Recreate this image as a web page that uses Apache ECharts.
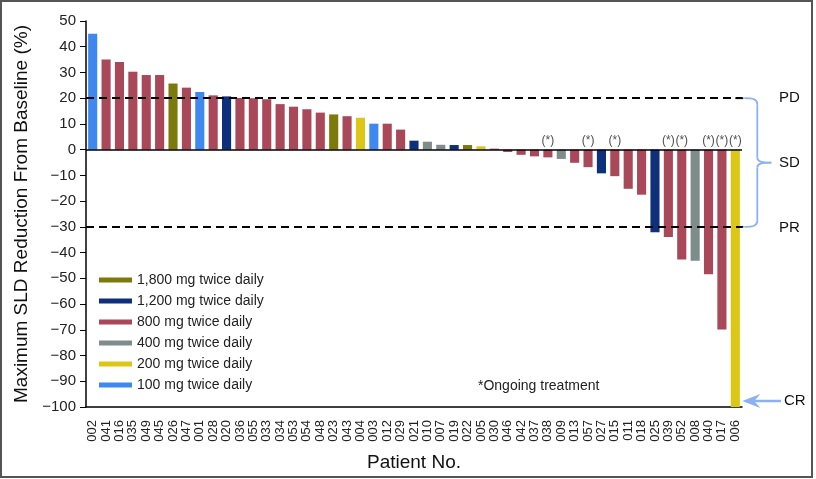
<!DOCTYPE html>
<html>
<head>
<meta charset="utf-8">
<script src="https://cdn.jsdelivr.net/npm/echarts@6/dist/echarts.min.js"></script>
<style>
html,body{margin:0;padding:0;background:#fff;}
#chart{width:816px;height:479px;}
</style>
</head>
<body>
<div id="chart"></div>
<script>
const categories = ['002','041','016','035','049','045','026','047','001','028','020','036','055','033','034','053','054','048','023','043','004','003','012','029','021','010','007','019','022','005','030','046','042','037','038','009','013','057','027','015','011','018','025','039','052','008','040','017','006'];
const values = [45,35,34.1,30.3,29,29,25.7,24.1,22.4,21.1,20.7,20.1,20,19.6,17.7,16.7,15.7,14.4,13.7,13,12.4,10.1,10.1,7.8,3.5,3.1,1.9,1.8,1.8,1.3,0.4,-0.9,-2,-2.6,-3,-3.6,-5.1,-6.8,-9.2,-10.3,-15.2,-17.5,-32.1,-33.9,-42.7,-43.2,-48.4,-69.9,-100];
const doses = ['100','800','800','800','800','800','1800','800','100','800','1200','800','800','800','800','800','800','800','1800','800','200','100','800','800','1200','400','400','1200','1800','200','800','800','800','800','800','400','800','800','1200','800','800','800','1200','800','800','400','800','800','200'];
const ongoing = ['038','057','015','039','052','040','017','006'];
const doseGroups = ['1800','1200','800','400','200','100'];
const doseNames = ['1,800 mg twice daily','1,200 mg twice daily','800 mg twice daily','400 mg twice daily','200 mg twice daily','100 mg twice daily'];
const doseColors = ['#7d7a0c','#0e2f7a','#a84858','#7e8c8a','#dcc616','#3f88f0'];
const yTicks = {min:-100, max:50, interval:10};
const refLines = {pd:20, pr:-30};

const FONT = '"Liberation Sans", Arial, Helvetica, sans-serif';
const chart = echarts.init(document.getElementById('chart'), null, {renderer:'canvas'});

const barSeries = doseGroups.map((g, gi) => ({
  name: doseNames[gi],
  type: 'bar',
  stack: 'dose',
  barWidth: '68%',
  itemStyle: {color: doseColors[gi]},
  data: values.map((v, i) => doses[i] === g ? v : '-'),
  z: 2
}));

const option = {
  animation: false,
  textStyle: {fontFamily: FONT},
  grid: {left: 86, right: 74, top: 21, bottom: 72},
  legend: {
    orient: 'vertical',
    left: 99, top: 273, padding: 0,
    itemWidth: 33, itemHeight: 5, itemGap: 7,
    icon: 'rect',
    data: doseNames,
    textStyle: {fontSize: 14, color: '#222', fontFamily: FONT}
  },
  xAxis: {
    type: 'category',
    data: categories,
    position: 'bottom',
    axisLine: {onZero: false, lineStyle: {color: '#000', width: 1.5}},
    axisTick: {alignWithLabel: true, length: 6, lineStyle: {color: '#000', width: 1}},
    axisLabel: {rotate: 90, fontSize: 13, color: '#222', margin: 13, interval: 0, fontFamily: FONT},
    name: 'Patient No.',
    nameLocation: 'middle',
    nameGap: 46,
    nameTextStyle: {fontSize: 19, color: '#111', fontFamily: FONT}
  },
  yAxis: {
    type: 'value',
    min: yTicks.min, max: yTicks.max, interval: yTicks.interval,
    splitLine: {show: false},
    axisLine: {show: true, lineStyle: {color: '#000', width: 1.5}},
    axisTick: {show: true, length: 6, lineStyle: {color: '#000'}},
    axisLabel: {fontSize: 15, color: '#222', margin: 10, fontFamily: FONT,
      formatter: v => String(v).replace('-', '\u2212')},
    name: 'Maximum SLD Reduction From Baseline (%)',
    nameLocation: 'middle',
    nameGap: 54,
    nameTextStyle: {fontSize: 19, color: '#111', fontFamily: FONT}
  },
  series: [
    ...barSeries,
    {
      type: 'line',
      data: [],
      silent: true,
      markLine: {
        symbol: 'none',
        silent: true,
        label: {show: false},
        data: [
          {yAxis: refLines.pd, lineStyle: {type: [8, 5], color: '#000', width: 1.8}},
          {yAxis: refLines.pr, lineStyle: {type: [8, 5], color: '#000', width: 1.8}},
          {yAxis: 0, lineStyle: {type: 'solid', color: '#000', width: 1.5}}
        ]
      },
      z: 5
    },
    {
      type: 'scatter',
      symbolSize: 0,
      silent: true,
      data: categories.map(c => ongoing.includes(c) ? [c, 0] : null).filter(d => d),
      label: {show: true, position: 'top', distance: 3, formatter: '(*)', fontSize: 12, color: '#222', fontFamily: FONT},
      z: 6
    }
  ]
};
chart.setOption(option);

// annotations on right side, placed using the axis scales
const yPD = chart.convertToPixel({yAxisIndex: 0}, refLines.pd);
const yPR = chart.convertToPixel({yAxisIndex: 0}, refLines.pr);
const yCR = chart.convertToPixel({yAxisIndex: 0}, yTicks.min);
const xLast = chart.convertToPixel({xAxisIndex: 0}, categories[categories.length - 1]);
const yMid = (yPD + yPR) / 2;
const bx = xLast + 9;      // start of brace
const bv = bx + 13;        // vertical stem of brace
const bt = bv + 14;        // tip
const braceColor = '#8bb1f2';
const bStyle = {fill: 'none', stroke: braceColor, lineWidth: 1.8};
function bez(x1, y1, cx1, cy1, cx2, cy2, x2, y2) {
  return {type: 'bezierCurve', shape: {x1: x1, y1: y1, cpx1: cx1, cpy1: cy1, cpx2: cx2, cpy2: cy2, x2: x2, y2: y2}, style: bStyle, silent: true};
}
function seg(x1, y1, x2, y2, style) {
  return {type: 'line', shape: {x1: x1, y1: y1, x2: x2, y2: y2}, style: style, silent: true};
}
const dashStyle = {stroke: '#000', lineWidth: 1.8, lineDash: [8, 5]};
chart.setOption({
  graphic: [
    {type: 'rect', shape: {x: 1, y: 1, width: 811, height: 476}, style: {fill: 'none', stroke: '#555', lineWidth: 2}, silent: true},
    seg(xLast, yPD, bx, yPD, dashStyle),
    seg(xLast, yPR, bx, yPR, dashStyle),
    bez(bx, yPD, bv - 4, yPD, bv, yPD + 1, bv, yPD + 6),
    seg(bv, yPD + 6, bv, yMid - 5, bStyle),
    bez(bv, yMid - 5, bv, yMid - 1, bv + 4, yMid, bt, yMid),
    bez(bt, yMid, bv + 4, yMid, bv, yMid + 1, bv, yMid + 5),
    seg(bv, yMid + 5, bv, yPR - 6, bStyle),
    bez(bv, yPR - 6, bv, yPR - 1, bv - 4, yPR, bx, yPR),
    {type: 'text', x: 779, y: yPD, style: {text: 'PD', font: '15px ' + FONT, fill: '#111', verticalAlign: 'middle'}},
    {type: 'text', x: 779, y: yMid, style: {text: 'SD', font: '15px ' + FONT, fill: '#111', verticalAlign: 'middle'}},
    {type: 'text', x: 779, y: yPR + 1, style: {text: 'PR', font: '15px ' + FONT, fill: '#111', verticalAlign: 'middle'}},
    {type: 'text', x: 784, y: yCR - 6, style: {text: 'CR', font: '15px ' + FONT, fill: '#111', verticalAlign: 'middle'}},
    seg(xLast + 18, yCR - 6, 781, yCR - 6, {stroke: braceColor, lineWidth: 2.5}),
    {type: 'polygon', shape: {points: [[xLast + 7, yCR - 6], [xLast + 25, yCR - 13], [xLast + 19, yCR - 6], [xLast + 25, yCR + 1]]}, style: {fill: braceColor}, silent: true},
    {type: 'text', x: 478, y: 386, style: {text: '*Ongoing treatment', font: '14px ' + FONT, fill: '#222', verticalAlign: 'middle'}}
  ]
});
</script>
</body>
</html>
